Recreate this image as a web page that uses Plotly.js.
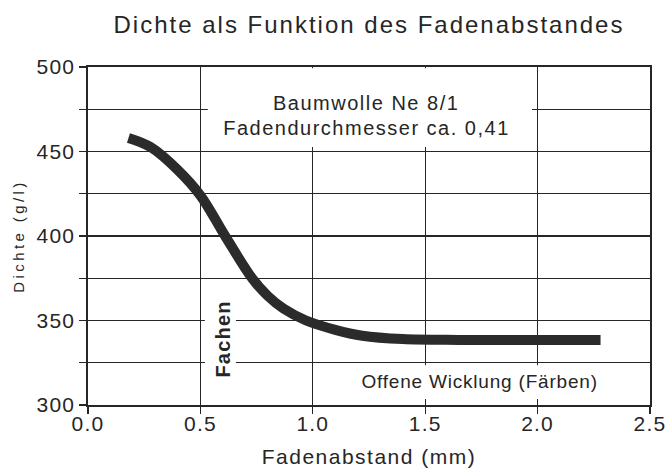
<!DOCTYPE html>
<html>
<head>
<meta charset="utf-8">
<script src="https://cdn.plot.ly/plotly-3.0.1.min.js"></script>
<style>
html,body{margin:0;padding:0;background:#fff;}
#chart{width:668px;height:471px;}
#chart .gtitle{letter-spacing:2px;}
#chart .ytitle{letter-spacing:3.4px;}
#chart .xtitle{letter-spacing:1.5px;}
#chart .xtick text, #chart .ytick text{letter-spacing:1.2px;}
#chart .annotation-text{letter-spacing:1.5px;}
#chart g.annotation[data-index="2"] .annotation-text{letter-spacing:1.2px;}
#chart g.annotation[data-index="3"] .annotation-text{letter-spacing:0.8px;}
</style>
</head>
<body>
<div id="chart"></div>
<script>
// Data
const fadenabstand = [0.18, 0.28, 0.40, 0.50, 0.61, 0.73, 0.80, 0.87, 0.97, 1.10, 1.22, 1.40, 1.65, 2.00, 2.28];
const dichte       = [458, 452.5, 439, 424, 400, 375, 364.5, 357, 350, 344.5, 341, 339, 338.5, 338.5, 338.5];
const yTickVals = [300, 325, 350, 375, 400, 425, 450, 475, 500];
const yTickText = ['300', '', '350', '', '400', '', '450', '', '500'];
const xTickVals = [0.0, 0.5, 1.0, 1.5, 2.0, 2.5];
const xTickText = ['0.0', '0.5', '1.0', '1.5', '2.0', '2.5'];
const titleText = 'Dichte als Funktion des Fadenabstandes';
const xTitle = 'Fadenabstand (mm)';
const yTitle = 'Dichte (g/l)';
const noteMaterial = 'Baumwolle Ne 8/1';
const noteDiameter = 'Fadendurchmesser ca. 0,41';
const noteFachen = 'Fachen';
const noteOffen = 'Offene Wicklung (Färben)';

const ink = '#262626';
const font = 'Liberation Sans, Arial, Helvetica, sans-serif';

const trace = {
  x: fadenabstand, y: dichte, type: 'scatter', mode: 'lines',
  line: {color: '#2b2b2b', width: 10, shape: 'spline', smoothing: 1},
  hoverinfo: 'skip'
};

const mask = (x0, x1, y0, y1) => ({type: 'rect', xref: 'x', yref: 'y', x0, x1, y0, y1,
  fillcolor: '#ffffff', line: {width: 0}, layer: 'between'});

const layout = {
  width: 668, height: 471,
  margin: {l: 88, r: 18, t: 67, b: 66},
  paper_bgcolor: '#ffffff', plot_bgcolor: '#ffffff',
  showlegend: false,
  font: {family: font, color: ink},
  title: {text: titleText, font: {size: 24, color: ink, family: font}, x: 0.5, xref: 'paper', y: 0.947, yref: 'container', xanchor: 'center', yanchor: 'middle'},
  xaxis: {
    range: [0, 2.5], tickvals: xTickVals, ticktext: xTickText,
    showgrid: true, gridcolor: ink, gridwidth: 1.3,
    showline: true, linecolor: ink, linewidth: 1.6, mirror: true,
    ticks: 'outside', ticklen: 7, tickwidth: 1.4, tickcolor: ink,
    tickfont: {size: 21, color: ink}, zeroline: false, ticklabelstandoff: -8,
    title: {text: xTitle, font: {size: 21, color: ink}, standoff: 15}
  },
  yaxis: {
    range: [300, 500], tickvals: yTickVals, ticktext: yTickText,
    showgrid: true, gridcolor: ink, gridwidth: 1.3,
    showline: true, linecolor: ink, linewidth: 1.6, mirror: true,
    ticks: 'outside', ticklen: 7, tickwidth: 1.4, tickcolor: ink,
    tickfont: {size: 21, color: ink}, zeroline: false,
    title: {text: yTitle, font: {size: 15, color: ink}, standoff: 12}
  },
  shapes: [
    mask(0.533, 1.975, 452.7, 499.2),
    mask(0.52, 0.658, 315, 364),
    mask(1.2, 2.35, 303.5, 323.5)
  ],
  annotations: [
    {x: 1.236, y: 478.7, xref: 'x', yref: 'y', text: noteMaterial, showarrow: false, font: {size: 20, color: ink}},
    {x: 1.24, y: 464, xref: 'x', yref: 'y', text: noteDiameter, showarrow: false, font: {size: 20, color: ink}},
    {x: 0.6, y: 339, xref: 'x', yref: 'y', text: '<b>' + noteFachen + '</b>', textangle: -90, showarrow: false, font: {size: 20, color: ink}},
    {x: 1.742, y: 314, xref: 'x', yref: 'y', text: noteOffen, showarrow: false, font: {size: 19, color: ink}}
  ]
};

Plotly.newPlot('chart', [trace], layout, {staticPlot: true, displayModeBar: false});
</script>
</body>
</html>
